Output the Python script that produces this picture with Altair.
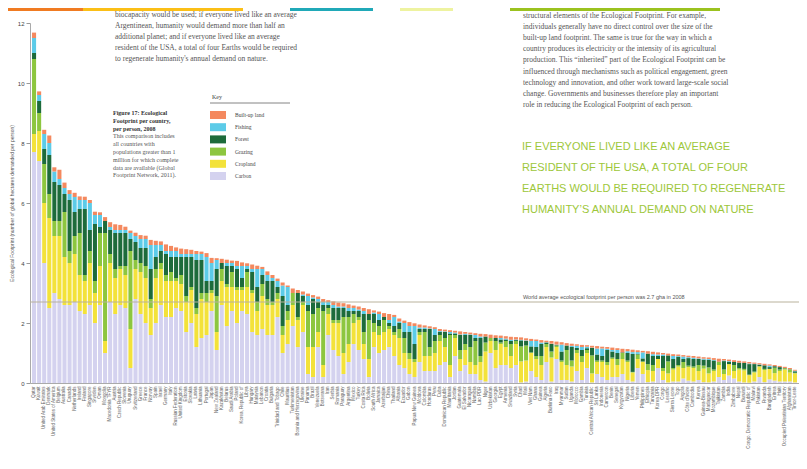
import altair as alt
import pandas as pd

countries = [
    "Qatar", "Kuwait", "United Arab Emirates", "Denmark", "United States of America",
    "Belgium", "Australia", "Canada", "Netherlands", "Ireland",
    "Finland", "Singapore", "Sweden", "Oman", "Mongolia",
    "Macedonia TFYR", "Austria", "Czech Republic", "Slovenia", "Uruguay",
    "Switzerland", "Greece", "France", "Norway", "Spain",
    "Israel", "Germany", "Italy", "Russian Federation", "United Kingdom",
    "Estonia", "Slovakia", "Latvia", "Lithuania", "Portugal",
    "Japan", "New Zealand", "Kazakhstan", "Belarus", "Saudi Arabia",
    "Poland", "Korea, Republic of", "Libya", "Hungary", "Malaysia",
    "Lebanon", "Croatia", "Bulgaria", "Trinidad and Tobago", "Chile",
    "Mauritius", "Turkmenistan", "Bosnia and Herzegovina", "Ukraine", "Panama",
    "Brazil", "Venezuela", "Botswana", "Iran", "Serbia",
    "Romania", "Paraguay", "Argentina", "Mexico", "Turkey",
    "Costa Rica", "Bolivia", "South Africa", "Jamaica", "Azerbaijan",
    "China", "Thailand", "Albania", "Ecuador", "Gabon",
    "Papua New Guinea", "Moldova", "Colombia", "Honduras", "Peru",
    "Cuba", "Dominican Republic", "Mauritania", "Jordan", "Guatemala",
    "El Salvador", "Nicaragua", "Namibia", "Lao PDR", "Niger",
    "Uzbekistan", "Georgia", "Egypt", "Armenia", "Swaziland",
    "Syria", "Chad", "Mali", "Viet Nam", "Ghana",
    "Guinea", "Algeria", "Burkina Faso", "Iraq", "Myanmar",
    "Sudan", "Uganda", "Morocco", "Gambia", "Tunisia",
    "Central African Republic", "Sri Lanka", "Indonesia", "Cameroon", "Benin",
    "Senegal", "Kyrgyzstan", "Nigeria", "Liberia", "Yemen",
    "Philippines", "Ethiopia", "Tanzania", "Korea DPR", "Congo",
    "Lesotho", "Sierra Leone", "Togo", "Angola", "Côte d'Ivoire",
    "Cambodia", "Kenya", "Guinea-Bissau", "Madagascar", "Mozambique",
    "Tajikistan", "Zambia", "India", "Zimbabwe", "Nepal",
    "Burundi", "Congo, Democratic Republic of", "Malawi", "Pakistan", "Rwanda",
    "Bangladesh", "Eritrea", "Haiti", "Occupied Palestinian Territory", "Afghanistan",
    "Timor-Leste",
]

carbon = [
    7.7, 7.4, 4.0, 2.5, 3.0, 2.8, 2.6, 2.6, 2.7, 2.4,
    2.3, 2.6, 2.0, 2.6, 1.0, 2.7, 2.3, 2.6, 2.5, 0.5,
    2.8, 2.3, 2.0, 1.6, 2.0, 2.6, 2.2, 2.2, 2.5, 2.4,
    1.7, 2.0, 1.2, 1.5, 1.6, 2.4, 1.1, 2.6, 1.9, 2.4,
    2.0, 2.4, 2.3, 1.7, 1.6, 1.8, 1.6, 1.6, 2.2, 1.0,
    1.3, 1.9, 1.2, 1.7, 0.3, 0.2, 1.2, 0.2, 1.6, 1.1,
    0.9, 0.3, 0.7, 1.3, 1.1, 0.8, 0.2, 1.2, 1.0, 1.1,
    1.2, 0.9, 0.6, 0.5, 0.3, 0.2, 0.7, 0.4, 0.4, 0.4,
    0.6, 0.7, 0.2, 0.9, 0.4, 0.6, 0.3, 0.3, 0.1, 0.05,
    1.0, 0.5, 0.6, 0.6, 0.5, 0.6, 0.02, 0.05, 0.4, 0.2,
    0.1, 0.7, 0.05, 0.8, 0.1, 0.1, 0.05, 0.4, 0.1, 0.5,
    0.02, 0.3, 0.2, 0.1, 0.2, 0.2, 0.3, 0.1, 0.05, 0.5,
    0.3, 0.03, 0.05, 0.5, 0.1, 0.02, 0.05, 0.05, 0.15, 0.08,
    0.05, 0.1, 0.03, 0.02, 0.05, 0.2, 0.1, 0.25, 0.15, 0.05,
    0.02, 0.01, 0.05, 0.2, 0.03, 0.12, 0.08, 0.05, 0.05, 0.05,
    0.02,
]

cropland = [
    0.6, 1.0, 2.0, 3.0, 1.9, 2.1, 1.6, 1.4, 1.6, 1.2,
    1.1, 1.4, 1.0, 1.3, 0.4, 1.3, 1.2, 1.2, 1.1, 1.3,
    1.0, 1.4, 1.5, 0.9, 1.5, 1.2, 1.2, 1.2, 0.9, 0.9,
    1.0, 1.1, 1.1, 1.3, 1.1, 0.6, 0.6, 0.8, 1.3, 0.8,
    1.1, 0.7, 0.9, 1.3, 0.8, 1.1, 1.0, 1.0, 0.6, 0.6,
    0.8, 0.7, 0.9, 0.9, 0.9, 1.0, 0.5, 0.4, 0.7, 0.9,
    1.1, 0.7, 0.6, 0.7, 1.0, 0.5, 0.6, 0.5, 0.6, 0.6,
    0.6, 0.7, 0.9, 0.5, 0.5, 0.5, 0.9, 0.5, 0.5, 0.6,
    0.8, 0.5, 0.4, 0.6, 0.4, 0.5, 0.4, 0.3, 0.6, 1.0,
    0.4, 0.6, 0.7, 0.6, 0.4, 0.7, 0.7, 0.7, 0.6, 0.6,
    0.5, 0.5, 0.8, 0.4, 0.6, 0.5, 0.5, 0.6, 0.6, 0.5,
    0.3, 0.4, 0.5, 0.5, 0.6, 0.4, 0.5, 0.6, 0.3, 0.3,
    0.4, 0.4, 0.35, 0.3, 0.3, 0.3, 0.4, 0.5, 0.35, 0.45,
    0.45, 0.3, 0.45, 0.3, 0.35, 0.4, 0.2, 0.38, 0.25, 0.4,
    0.4, 0.25, 0.3, 0.35, 0.4, 0.35, 0.25, 0.35, 0.4, 0.3,
    0.3,
]

grazing = [
    2.5, 0.6, 1.3, 0.8, 0.5, 0.5, 1.5, 0.4, 0.6, 1.4,
    0.2, 0.4, 0.4, 1.1, 3.6, 0.3, 0.3, 0.1, 0.3, 2.6,
    0.3, 0.3, 0.4, 0.3, 0.3, 0.2, 0.2, 0.3, 0.1, 0.3,
    0.2, 0.1, 0.2, 0.2, 0.3, 0.1, 1.2, 0.4, 0.1, 0.5,
    0.1, 0.1, 0.5, 0.1, 0.3, 0.4, 0.2, 0.1, 0.2, 0.3,
    0.3, 0.4, 0.1, 0.1, 1.2, 1.1, 0.8, 1.8, 0.2, 0.1,
    0.1, 1.2, 0.9, 0.3, 0.1, 0.4, 1.3, 0.3, 0.3, 0.4,
    0.1, 0.1, 0.3, 0.5, 0.2, 0.1, 0.1, 0.8, 0.3, 0.4,
    0.2, 0.3, 1.0, 0.1, 0.3, 0.2, 0.5, 0.8, 0.2, 0.3,
    0.1, 0.3, 0.05, 0.2, 0.4, 0.1, 0.5, 0.5, 0.02, 0.1,
    0.3, 0.1, 0.2, 0.05, 0.05, 0.5, 0.2, 0.1, 0.2, 0.1,
    0.6, 0.05, 0.05, 0.1, 0.05, 0.2, 0.2, 0.05, 0.02, 0.15,
    0.02, 0.2, 0.2, 0.0, 0.1, 0.4, 0.05, 0.05, 0.2, 0.05,
    0.05, 0.2, 0.1, 0.2, 0.05, 0.1, 0.15, 0.0, 0.2, 0.05,
    0.05, 0.02, 0.03, 0.01, 0.04, 0.0, 0.18, 0.05, 0.04, 0.1,
    0.02,
]

forest = [
    0.2, 0.4, 0.5, 1.3, 1.3, 1.2, 0.6, 1.7, 0.8, 0.8,
    2.2, 0.7, 1.9, 0.2, 0.4, 0.8, 1.2, 1.1, 1.1, 0.4,
    0.6, 0.5, 0.6, 1.0, 0.4, 0.4, 0.7, 0.5, 0.7, 0.6,
    1.3, 1.0, 1.6, 1.1, 0.4, 0.3, 0.9, 0.2, 0.6, 0.2,
    0.6, 0.3, 0.1, 0.6, 0.5, 0.3, 0.6, 0.7, 0.2, 1.0,
    0.2, 0.0, 0.8, 0.2, 0.2, 0.5, 0.2, 0.2, 0.1, 0.4,
    0.4, 0.3, 0.2, 0.1, 0.2, 0.6, 0.2, 0.3, 0.2, 0.1,
    0.1, 0.2, 0.2, 0.2, 0.7, 0.5, 0.1, 0.1, 0.6, 0.2,
    0.1, 0.2, 0.05, 0.05, 0.5, 0.3, 0.4, 0.1, 0.6, 0.2,
    0.0, 0.1, 0.1, 0.05, 0.1, 0.03, 0.2, 0.15, 0.2, 0.3,
    0.4, 0.05, 0.25, 0.02, 0.3, 0.15, 0.45, 0.07, 0.2, 0.06,
    0.25, 0.2, 0.15, 0.4, 0.2, 0.2, 0.02, 0.25, 0.6, 0.02,
    0.1, 0.35, 0.3, 0.1, 0.4, 0.2, 0.3, 0.28, 0.1, 0.25,
    0.25, 0.2, 0.2, 0.25, 0.3, 0.01, 0.28, 0.08, 0.1, 0.18,
    0.2, 0.35, 0.25, 0.05, 0.12, 0.06, 0.05, 0.08, 0.01, 0.01,
    0.05,
]

fishing = [
    0.5, 0.2, 0.5, 0.4, 0.35, 0.2, 0.2, 0.2, 0.5, 0.3,
    0.3, 0.9, 0.3, 0.4, 0.0, 0.1, 0.1, 0.1, 0.1, 0.2,
    0.2, 0.3, 0.3, 0.8, 0.4, 0.2, 0.1, 0.2, 0.2, 0.1,
    0.1, 0.1, 0.2, 0.2, 0.8, 0.6, 0.3, 0.0, 0.1, 0.1,
    0.1, 0.4, 0.1, 0.1, 0.6, 0.2, 0.2, 0.1, 0.2, 0.35,
    0.6, 0.0, 0.0, 0.05, 0.3, 0.05, 0.1, 0.1, 0.1, 0.1,
    0.05, 0.05, 0.1, 0.1, 0.05, 0.1, 0.0, 0.05, 0.2, 0.0,
    0.1, 0.3, 0.05, 0.3, 0.2, 0.6, 0.05, 0.05, 0.02, 0.2,
    0.03, 0.02, 0.05, 0.03, 0.02, 0.04, 0.02, 0.1, 0.05, 0.0,
    0.0, 0.0, 0.05, 0.03, 0.04, 0.02, 0.02, 0.02, 0.18, 0.2,
    0.05, 0.01, 0.01, 0.01, 0.23, 0.0, 0.04, 0.07, 0.1, 0.05,
    0.01, 0.2, 0.25, 0.04, 0.05, 0.1, 0.0, 0.06, 0.06, 0.06,
    0.2, 0.0, 0.06, 0.05, 0.05, 0.0, 0.1, 0.02, 0.08, 0.03,
    0.04, 0.02, 0.03, 0.03, 0.02, 0.0, 0.02, 0.02, 0.0, 0.0,
    0.0, 0.02, 0.01, 0.01, 0.0, 0.05, 0.0, 0.0, 0.0, 0.0,
    0.02,
]

builtup = [
    0.18, 0.12, 0.14, 0.25, 0.14, 0.31, 0.18, 0.13, 0.14, 0.12,
    0.11, 0.10, 0.11, 0.09, 0.13, 0.16, 0.19, 0.17, 0.11, 0.08,
    0.11, 0.13, 0.11, 0.17, 0.14, 0.12, 0.22, 0.17, 0.12, 0.18,
    0.16, 0.14, 0.10, 0.08, 0.13, 0.17, 0.06, 0.14, 0.11, 0.08,
    0.17, 0.12, 0.09, 0.15, 0.11, 0.07, 0.12, 0.10, 0.08, 0.10,
    0.05, 0.15, 0.10, 0.10, 0.08, 0.08, 0.08, 0.10, 0.06, 0.12,
    0.13, 0.11, 0.12, 0.08, 0.10, 0.10, 0.16, 0.07, 0.08, 0.13,
    0.20, 0.07, 0.10, 0.08, 0.13, 0.09, 0.10, 0.07, 0.07, 0.06,
    0.07, 0.06, 0.06, 0.06, 0.10, 0.06, 0.06, 0.06, 0.09, 0.08,
    0.11, 0.09, 0.08, 0.08, 0.10, 0.08, 0.08, 0.07, 0.07, 0.05,
    0.08, 0.05, 0.09, 0.10, 0.08, 0.08, 0.07, 0.05, 0.07, 0.05,
    0.06, 0.08, 0.06, 0.06, 0.08, 0.06, 0.12, 0.07, 0.08, 0.06,
    0.05, 0.08, 0.08, 0.07, 0.05, 0.06, 0.06, 0.05, 0.05, 0.05,
    0.06, 0.06, 0.05, 0.05, 0.06, 0.10, 0.05, 0.05, 0.06, 0.06,
    0.05, 0.05, 0.04, 0.04, 0.05, 0.04, 0.04, 0.04, 0.04, 0.04,
    0.03,
]

world_average = [2.7]

legend_names = ["Built-up land", "Fishing", "Forest", "Grazing", "Cropland", "Carbon"]
legend_colors = ["#f4895f", "#5ccbe8", "#1d6b3b", "#8dc63f", "#f3e23a", "#d4d2ef"]

y_title = "Ecological Footprint (number of global hectares demanded per person)"
avg_label = "World average ecological footprint per person was 2.7 gha in 2008"

left_para = [
    "biocapacity would be used; if everyone lived like an average",
    "Argentinean, humanity would demand more than half an",
    "additional planet; and if everyone lived like an average",
    "resident of the USA, a total of four Earths would be required",
    "to regenerate humanity's annual demand on nature.",
]
right_para = [
    "structural elements of the Ecological Footprint. For example,",
    "individuals generally have no direct control over the size of the",
    "built-up land footprint. The same is true for the way in which a",
    "country produces its electricity or the intensity of its agricultural",
    "production. This \u201cinherited\u201d part of the Ecological Footprint can be",
    "influenced through mechanisms such as political engagement, green",
    "technology and innovation, and other work toward large-scale social",
    "change. Governments and businesses therefore play an important",
    "role in reducing the Ecological Footprint of each person.",
]
caption_bold = ["Figure 17: Ecological", "Footprint per country,", "per person, 2008"]
caption_body = [
    "This comparison includes",
    "all countries with",
    "populations greater than 1",
    "million for which complete",
    "data are available (Global",
    "Footprint Network, 2011).",
]
quote = [
    "IF EVERYONE LIVED LIKE AN AVERAGE",
    "RESIDENT OF THE USA, A TOTAL OF FOUR",
    "EARTHS WOULD BE REQUIRED TO REGENERATE",
    "HUMANITY\u2019S ANNUAL DEMAND ON NATURE",
]
key_title = "Key"

series = {
    "Carbon": carbon,
    "Cropland": cropland,
    "Grazing": grazing,
    "Forest": forest,
    "Fishing": fishing,
    "Built-up land": builtup,
}
for k, v in series.items():
    assert len(v) == len(countries), (k, len(v), len(countries))

rows = []
for rank, (comp, vals) in enumerate(series.items()):
    for c, v in zip(countries, vals):
        rows.append({"country": c, "component": comp, "value": v, "rank": rank})
df = pd.DataFrame(rows)

W, H = 769, 360
one = pd.DataFrame({"k": [0]})
serif = "Liberation Serif"

bars = alt.Chart(df).mark_bar().encode(
    x=alt.X(
        "country:N",
        sort=countries,
        scale=alt.Scale(paddingInner=0.2, paddingOuter=0.4),
        axis=alt.Axis(
            title=None, labelAngle=-90, labelFontSize=4.5, labelColor="#666",
            labelFont="Liberation Sans", ticks=False, domainColor="#aaa",
            labelPadding=3, labelOverlap=False, labelLimit=200,
        ),
    ),
    y=alt.Y(
        "value:Q",
        stack="zero",
        scale=alt.Scale(domain=[0, 12], nice=False),
        axis=alt.Axis(
            values=[0, 2, 4, 6, 8, 10, 12], grid=False, labelFontSize=6,
            labelColor="#444", labelFont="Liberation Sans", tickColor="#999",
            tickSize=4, domainColor="#aaa", labelPadding=2,
            title=y_title, titleFontSize=5, titleFontWeight="normal",
            titleColor="#555", titleFont="Liberation Sans", titlePadding=3,
        ),
    ),
    color=alt.Color(
        "component:N",
        scale=alt.Scale(domain=legend_names, range=legend_colors),
        legend=alt.Legend(
            orient="none", legendX=184, legendY=88, title=None,
            symbolType="M-2,-1H2V1H-2Z", symbolSize=64, symbolStrokeWidth=0,
            symbolOpacity=1, labelFontSize=5.5, labelFont=serif,
            labelColor="#444", labelOffset=13, rowPadding=4.2,
        ),
    ),
    order=alt.Order("rank:Q", sort="ascending"),
)

avg_rule = alt.Chart(pd.DataFrame({"avg": world_average})).mark_rule(
    color="#b9b29c", strokeWidth=1
).encode(y="avg:Q")


def text_block(lines, x, y, size, line_height, color="#555", font=serif,
               weight="normal", baseline="top"):
    return alt.Chart(one).mark_text(
        align="left", baseline=baseline, font=font, fontSize=size,
        lineHeight=line_height, color=color, fontWeight=weight,
    ).encode(x=alt.value(x), y=alt.value(y), text=alt.value(lines))


strip_x = [-22, 53, 260, 370, 480]
strip_x2 = [53, 213, 343, 423, 690]
strip_c = ["#f07b22", "#fbbf17", "#20a9b8", "#eef3a0", "#9bc21f"]
strips = [
    alt.Chart(one).mark_rect(color=c).encode(
        x=alt.value(a), x2=alt.value(b), y=alt.value(-15), y2=alt.value(-12)
    )
    for a, b, c in zip(strip_x, strip_x2, strip_c)
]

layers = [bars, avg_rule] + strips + [
    text_block(left_para, 85, -12, 7.5, 11),
    text_block(right_para, 493, -11, 7.5, 11.1),
    text_block(caption_bold, 83, 87, 6, 7.8, color="#333", weight="bold"),
    text_block(caption_body, 83, 110.4, 6, 7.8),
    text_block([key_title], 182, 74, 6, 7, color="#444", baseline="middle"),
    alt.Chart(one).mark_rule(color="#666", strokeWidth=0.8).encode(
        x=alt.value(180), x2=alt.value(260), y=alt.value(80)
    ),
    text_block(quote, 492, 118, 11, 21, color="#9dc73a", font="Liberation Sans"),
    text_block([avg_label], 493, 274, 5.5, 6, color="#555",
               font="Liberation Sans", baseline="middle"),
]

chart = alt.layer(*layers).properties(
    width=W, height=H,
    padding={"left": 22, "top": 15, "right": 0, "bottom": 70},
    autosize=alt.AutoSizeParams(type="none"),
    background="white",
).configure_view(stroke=None)

chart.save("out.html", embed_options={"renderer": "svg", "actions": False})
